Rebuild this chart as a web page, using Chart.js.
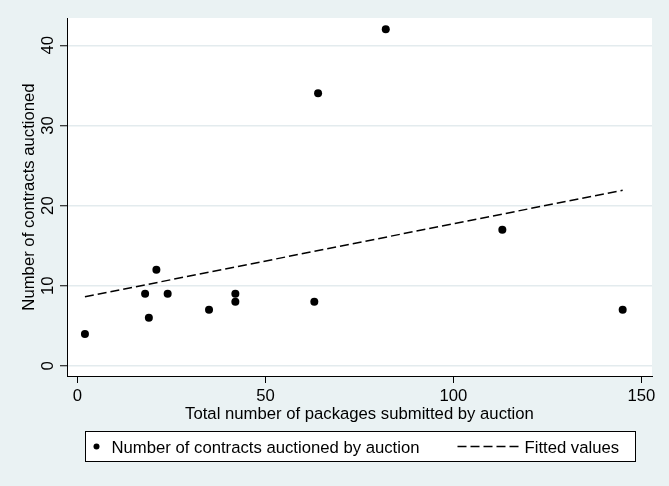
<!DOCTYPE html>
<html>
<head>
<meta charset="utf-8">
<script src="https://cdn.jsdelivr.net/npm/chart.js@4/dist/chart.umd.min.js"></script>
<style>
  html, body { margin: 0; padding: 0; background: #EAF2F3; }
  canvas { display: block; }
</style>
</head>
<body>
<canvas id="c" width="669" height="486"></canvas>
<script>
// One pair per auction: packages submitted (x) and contracts auctioned (y)
const packagesSubmitted  = [2, 18, 19, 21, 24, 35, 42, 42, 63, 64, 82, 113, 145];
const contractsAuctioned = [4, 9, 6, 12, 9, 7, 9, 8, 8, 34, 42, 17, 7];

// Linear fit, evaluated at the smallest and largest x
const fitX = [2, 145];
const fitY = [8.63, 21.92];

const xTicks = [0, 50, 100, 150];
const yTicks = [0, 10, 20, 30, 40];

const xTitle = 'Total number of packages submitted by auction';
const yTitle = 'Number of contracts auctioned';
const seriesLabels = ['Number of contracts auctioned by auction', 'Fitted values'];

const FAMILY = '"Liberation Sans", Arial, Helvetica, sans-serif';
const SIZE = 16.7;
const FONT = SIZE + 'px ' + FAMILY;
const BG = '#EAF2F3';
const GRID = '#E3EBEE';

const scatterPoints = packagesSubmitted.map((v, i) => ({ x: v, y: contractsAuctioned[i] }));
const fitPoints = fitX.map((v, i) => ({ x: v, y: fitY[i] }));

// Background, rotated y labels, axis titles and the boxed legend
const stataDecor = {
  id: 'stataDecor',
  beforeDraw(chart) {
    const { ctx, chartArea: a } = chart;
    ctx.save();
    ctx.fillStyle = BG;
    ctx.fillRect(0, 0, chart.width, chart.height);
    ctx.fillStyle = '#FFFFFF';
    ctx.fillRect(a.left, a.top, a.right - a.left, a.bottom - a.top);
    ctx.restore();
  },
  afterDraw(chart) {
    const { ctx, chartArea: a } = chart;
    const y = chart.scales.y;
    ctx.save();
    ctx.fillStyle = '#000';
    ctx.font = FONT;
    ctx.textAlign = 'center';
    ctx.textBaseline = 'alphabetic';

    // y tick labels, vertical
    y.ticks.forEach(t => {
      const py = y.getPixelForValue(t.value);
      ctx.save();
      ctx.translate(a.left - 13.7, py);
      ctx.rotate(-Math.PI / 2);
      ctx.fillText(String(t.value), 0, 0);
      ctx.restore();
    });

    // y axis title
    ctx.save();
    ctx.translate(33.5, (a.top + a.bottom) / 2);
    ctx.rotate(-Math.PI / 2);
    ctx.fillText(yTitle, 0, 0);
    ctx.restore();

    // x axis title
    ctx.fillText(xTitle, (a.left + a.right) / 2, 419);

    // legend box
    const boxW = 550, boxH = 30;
    const bx = Math.round((a.left + a.right) / 2 - boxW / 2) + 0.5;
    const by = 431.5;
    ctx.fillStyle = '#FFFFFF';
    ctx.fillRect(bx, by, boxW, boxH);
    ctx.strokeStyle = '#000';
    ctx.lineWidth = 1;
    ctx.strokeRect(bx, by, boxW, boxH);

    const midY = by + boxH / 2;
    const ds = chart.data.datasets;
    // marker key
    ctx.fillStyle = '#000';
    ctx.beginPath();
    ctx.arc(bx + 11, midY, 3, 0, Math.PI * 2);
    ctx.fill();
    ctx.textAlign = 'left';
    ctx.fillText(ds[0].label, bx + 26, midY + 6);
    // dashed line key
    ctx.beginPath();
    ctx.setLineDash([9, 4]);
    ctx.lineWidth = 1.5;
    ctx.moveTo(bx + 372, midY);
    ctx.lineTo(bx + 434, midY);
    ctx.stroke();
    ctx.setLineDash([]);
    ctx.fillText(ds[1].label, bx + 439, midY + 6);
    ctx.restore();
  }
};

new Chart(document.getElementById('c'), {
  type: 'scatter',
  data: {
    datasets: [
      {
        label: seriesLabels[0],
        data: scatterPoints,
        pointRadius: 4,
        pointHoverRadius: 4,
        pointBackgroundColor: '#000',
        pointBorderWidth: 0,
        showLine: false
      },
      {
        label: seriesLabels[1],
        data: fitPoints,
        showLine: true,
        borderColor: '#000',
        borderWidth: 1.5,
        borderDash: [9, 4],
        pointRadius: 0,
        fill: false
      }
    ]
  },
  options: {
    responsive: false,
    animation: false,
    events: [],
    layout: { padding: { left: 0, top: 18, right: 17, bottom: 0 } },
    plugins: {
      legend: { display: false },
      tooltip: { enabled: false }
    },
    scales: {
      x: {
        type: 'linear',
        min: -2.77,
        max: 152.8,
        afterBuildTicks: s => { s.ticks = xTicks.map(v => ({ value: v })); },
        afterFit: s => { s.height = 110; },
        ticks: {
          color: '#000',
          font: { family: FAMILY, size: SIZE },
          padding: 3,
          maxRotation: 0,
          autoSkip: false
        },
        grid: {
          drawOnChartArea: false,
          drawTicks: true,
          tickLength: 7,
          tickColor: '#000',
          tickWidth: 1
        },
        border: { display: true, color: '#000', width: 1 }
      },
      y: {
        type: 'linear',
        min: -1.25,
        max: 43.4,
        afterBuildTicks: s => { s.ticks = yTicks.map(v => ({ value: v })); },
        afterFit: s => { s.width = 67; },
        ticks: { display: false },
        grid: {
          color: GRID,
          lineWidth: 1.5,
          drawTicks: true,
          tickLength: 7,
          tickColor: '#000',
          tickWidth: 1
        },
        border: { display: true, color: '#000', width: 1 }
      }
    }
  },
  plugins: [stataDecor]
});
</script>
</body>
</html>
